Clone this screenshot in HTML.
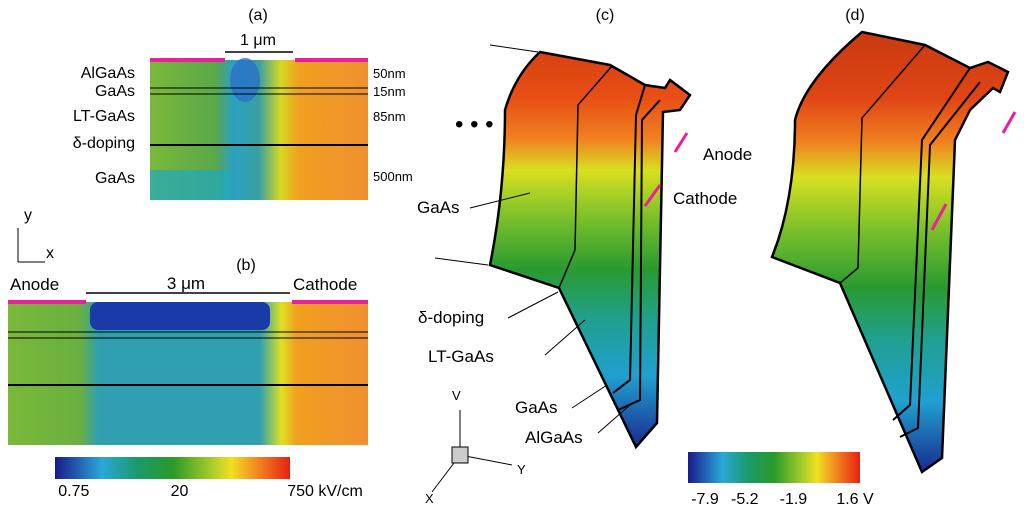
<!DOCTYPE html>
<html><head><meta charset="utf-8"><style>
body{margin:0;background:#fff;width:1024px;height:517px;overflow:hidden;font-family:"Liberation Sans",sans-serif}
svg text{font-family:"Liberation Sans","DejaVu Sans",sans-serif;fill:#000}
</style></head><body>
<svg width="1024" height="517" viewBox="0 0 1024 517">
<defs>
<linearGradient id="cb" x1="0" x2="1" y1="0" y2="0">
<stop offset="0" stop-color="#1a1a8c"/><stop offset="0.2" stop-color="#2aa8d8"/><stop offset="0.35" stop-color="#1a9a6a"/><stop offset="0.5" stop-color="#2a9a2a"/><stop offset="0.65" stop-color="#9ac82a"/><stop offset="0.75" stop-color="#f0e020"/><stop offset="0.87" stop-color="#f08020"/><stop offset="1" stop-color="#e82010"/></linearGradient>
<linearGradient id="pvc" gradientUnits="userSpaceOnUse" x1="0" x2="0" y1="52" y2="447">
<stop offset="0" stop-color="#d84010"/><stop offset="0.12" stop-color="#e85015"/><stop offset="0.22" stop-color="#f08020"/><stop offset="0.3" stop-color="#d8e020"/><stop offset="0.42" stop-color="#7ac02a"/><stop offset="0.55" stop-color="#2a9a30"/><stop offset="0.68" stop-color="#20a090"/><stop offset="0.82" stop-color="#20a0d0"/><stop offset="1" stop-color="#1a2a90"/></linearGradient>
<linearGradient id="pvd" gradientUnits="userSpaceOnUse" x1="0" x2="0" y1="32" y2="472">
<stop offset="0" stop-color="#c83a10"/><stop offset="0.15" stop-color="#e04515"/><stop offset="0.25" stop-color="#f08020"/><stop offset="0.33" stop-color="#d8e020"/><stop offset="0.45" stop-color="#7ac02a"/><stop offset="0.58" stop-color="#2a9a30"/><stop offset="0.7" stop-color="#20a090"/><stop offset="0.84" stop-color="#20a0d0"/><stop offset="1" stop-color="#1a2a90"/></linearGradient>
<linearGradient id="fa" x1="0" x2="1" y1="0" y2="0">
<stop offset="0" stop-color="#7ab83a"/><stop offset="0.3" stop-color="#5aa84a"/><stop offset="0.38" stop-color="#2aa0c0"/><stop offset="0.5" stop-color="#3aa0a0"/><stop offset="0.6" stop-color="#d8d820"/><stop offset="0.68" stop-color="#f0a020"/><stop offset="1" stop-color="#f09030"/></linearGradient>
<linearGradient id="fb" x1="0" x2="1" y1="0" y2="0">
<stop offset="0" stop-color="#7ab83a"/><stop offset="0.2" stop-color="#6ab040"/><stop offset="0.25" stop-color="#30a0b0"/><stop offset="0.7" stop-color="#30a0b0"/><stop offset="0.76" stop-color="#e0e020"/><stop offset="0.8" stop-color="#f0a020"/><stop offset="1" stop-color="#f09030"/></linearGradient>
</defs>

<!-- panel a -->
<g>
<text x="258" y="20" font-size="16" text-anchor="middle">(a)</text>
<rect x="150" y="60" width="218" height="140" fill="url(#fa)"/>
<ellipse cx="245" cy="80" rx="15" ry="22" fill="#2a70c8" opacity="0.8"/>
<rect x="150" y="170" width="80" height="30" fill="#20a8c0" opacity="0.7"/>
<rect x="150" y="58" width="75" height="4" fill="#e8209a"/><rect x="295" y="58" width="73" height="4" fill="#e8209a"/>
<line x1="150" y1="88" x2="368" y2="88" stroke="#000"/><line x1="150" y1="94" x2="368" y2="94" stroke="#000"/><line x1="150" y1="145" x2="368" y2="145" stroke="#000" stroke-width="2"/>
<line x1="225" y1="52" x2="293" y2="52" stroke="#000" stroke-width="1.5"/>
<text x="258" y="45" font-size="16" text-anchor="middle">1 μm</text>
<g font-size="16" text-anchor="end"><text x="135" y="78">AlGaAs</text><text x="135" y="96">GaAs</text><text x="135" y="121">LT-GaAs</text><text x="135" y="148">δ-doping</text><text x="135" y="183">GaAs</text></g>
<g font-size="13"><text x="373" y="78">50nm</text><text x="373" y="96">15nm</text><text x="373" y="121">85nm</text><text x="373" y="181">500nm</text></g>
</g>

<!-- axes indicator -->
<g>
<line x1="18" y1="228" x2="18" y2="262" stroke="#000"/><line x1="18" y1="262" x2="45" y2="262" stroke="#000"/>
<text x="24" y="220" font-size="16">y</text><text x="46" y="258" font-size="16">x</text>
</g>

<!-- panel b -->
<g>
<text x="246" y="270" font-size="16" text-anchor="middle">(b)</text>
<rect x="8" y="302" width="360" height="143" fill="url(#fb)"/>
<rect x="90" y="302" width="180" height="28" rx="8" fill="#1a3aa8"/>
<rect x="8" y="300" width="78" height="4" fill="#e8209a"/><rect x="292" y="300" width="76" height="4" fill="#e8209a"/>
<line x1="8" y1="332" x2="368" y2="332" stroke="#000"/><line x1="8" y1="338" x2="368" y2="338" stroke="#000"/><line x1="8" y1="385" x2="368" y2="385" stroke="#000" stroke-width="2"/>
<line x1="86" y1="293" x2="290" y2="293" stroke="#000" stroke-width="1.5"/>
<text x="10" y="290" font-size="17">Anode</text><text x="186" y="289" font-size="17" text-anchor="middle">3 μm</text><text x="293" y="290" font-size="17">Cathode</text>
</g>

<!-- colorbar field -->
<g>
<rect x="55" y="457" width="235" height="22" fill="url(#cb)"/>
<g font-size="16" text-anchor="middle" id="cbf"></g>
</g>

<!-- panel c -->
<g>
<text x="605" y="20" font-size="16" text-anchor="middle">(c)</text>
<path d="M540,52 L610,65 L645,85 L665,88 L670,80 L690,95 L680,110 L663,112 L657,423 L636,447 L559,288 L490,265 Q505,190 505,110 Q515,75 540,52Z" fill="url(#pvc)" stroke="#000" stroke-width="2.5"/>
<path d="M612,66 L578,105 L575,250 L559,288" fill="none" stroke="#000" stroke-width="1.5"/>
<path d="M645,85 L636,115 L630,380 L613,393" fill="none" stroke="#000" stroke-width="2"/>
<path d="M660,100 L642,120 L640,400 L618,410" fill="none" stroke="#000" stroke-width="2"/>
<line x1="538" y1="52" x2="490" y2="45" stroke="#000"/><line x1="488" y1="265" x2="435" y2="258" stroke="#000"/>
<text x="455" y="132" font-size="24">• • •</text>
<line x1="687" y1="133" x2="675" y2="152" stroke="#e8209a" stroke-width="3"/><line x1="660" y1="185" x2="645" y2="206" stroke="#e8209a" stroke-width="3"/>
<g font-size="17"><text x="703" y="160">Anode</text><text x="673" y="204">Cathode</text><text x="417" y="213">GaAs</text><text x="418" y="323">δ-doping</text><text x="428" y="362">LT-GaAs</text><text x="515" y="413">GaAs</text><text x="525" y="443">AlGaAs</text></g>
<g stroke="#000"><line x1="470" y1="208" x2="530" y2="193"/><line x1="508" y1="318" x2="558" y2="292"/><line x1="545" y1="355" x2="585" y2="320"/><line x1="572" y1="408" x2="607" y2="385"/><line x1="598" y1="433" x2="630" y2="405"/></g>
<g stroke="#000"><line x1="460" y1="455" x2="460" y2="410"/><line x1="460" y1="455" x2="512" y2="465"/><line x1="460" y1="455" x2="432" y2="492"/><rect x="452" y="447" width="16" height="16" fill="#ccc"/>
<text x="452" y="400" font-size="13" stroke="none">V</text><text x="517" y="474" font-size="13" stroke="none">Y</text><text x="425" y="503" font-size="13" stroke="none">X</text></g>
</g>

<!-- panel d -->
<g>
<text x="855" y="20" font-size="16" text-anchor="middle">(d)</text>
<path d="M862,32 L925,45 L970,68 L988,62 L1008,72 L1000,92 L993,88 L970,110 L955,140 L942,458 L922,472 L840,283 L772,257 Q795,200 795,120 Q805,80 862,32Z" fill="url(#pvd)" stroke="#000" stroke-width="2.5"/>
<path d="M925,45 L862,118 L858,268 L840,283" fill="none" stroke="#000" stroke-width="1.5"/>
<path d="M970,68 L922,140 L910,405 L893,420" fill="none" stroke="#000" stroke-width="2"/>
<path d="M980,82 L930,145 L918,428 L900,437" fill="none" stroke="#000" stroke-width="2"/>
<line x1="1015" y1="112" x2="1003" y2="133" stroke="#e8209a" stroke-width="3"/><line x1="946" y1="204" x2="932" y2="230" stroke="#e8209a" stroke-width="3"/>
</g>

<!-- colorbar potential -->
<g>
<rect x="688" y="452" width="172" height="31" fill="url(#cb)"/>
<g font-size="16" text-anchor="middle" id="cbp"></g>
</g>
</svg>
<script>
const fieldTicks=["0.75","20","750 kV/cm"];
const fieldTickPos=[0.08,0.53,1];
const potTicks=["-7.9","-5.2","-1.9","1.6 V"];
const potTickVals=[-7.9,-5.2,-1.9,1.6];
function fx(t){return 55+t*235;}
function px(v){return 705+(v+7.9)/(1.6+7.9)*140;}
const ns="http://www.w3.org/2000/svg";
const gf=document.getElementById('cbf');
fieldTicks.forEach((s,i)=>{const t=document.createElementNS(ns,'text');


let x=fx(fieldTickPos[i]);if(i==2)x+=35;
t.setAttribute('x',x);t.setAttribute('y',496);t.textContent=s;gf.appendChild(t);});
const gp=document.getElementById('cbp');
potTicks.forEach((s,i)=>{const t=document.createElementNS(ns,'text');


t.setAttribute('x',px(potTickVals[i])+(i==3?10:0));t.setAttribute('y',504);t.textContent=s;gp.appendChild(t);});
</script>
</body></html>
